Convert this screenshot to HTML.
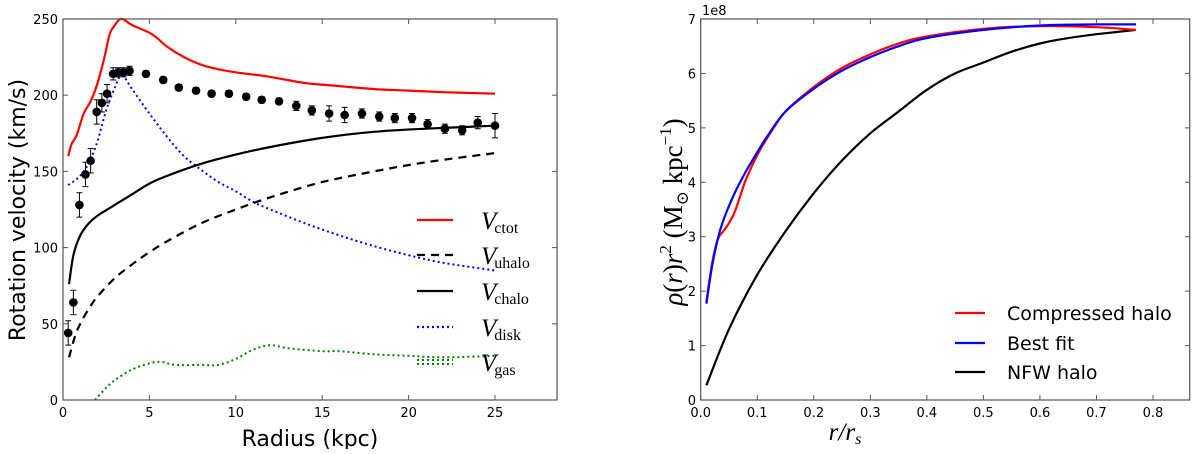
<!DOCTYPE html>
<html><head><meta charset="utf-8">
<style>
body{margin:0;background:#fff;width:1200px;height:449px;overflow:hidden}
svg text{font-family:"DejaVu Sans","Liberation Sans",sans-serif}
.serif{font-family:"Liberation Serif","DejaVu Serif",serif}
</style></head>
<body>
<svg id="chart" width="1200" height="449" xmlns="http://www.w3.org/2000/svg">
<g id="left"></g>
<g id="right"></g>
</svg>
<script>
// ---- Left panel data ----
const obsR=[0.3,0.6,0.95,1.3,1.6,1.95,2.25,2.55,2.9,3.2,3.5,3.85,4.8,5.8,6.7,7.7,8.6,9.6,10.6,11.5,12.5,13.5,14.4,15.4,16.3,17.3,18.3,19.2,20.2,21.1,22.1,23.1,24,25];
const obsV=[44,64,128,148,157,189,195,201,214,215,215,216,214,210,205,203,201,201,199,197,196,193,190,188,187,188,186,185,185,181,178,177,182,180];
const obsErr=[8,8,8,8,8,8,6,6,4,3,3,3,2,2,2,2,2,2,2,2,2,3,3,5,5,3,3,3,3,3,3,3,4,8];
const ctotR=[0.3,0.5,0.8,1.2,1.6,2,2.4,2.7,3.0,3.3,3.6,4,5,5.5,6,7,8,9,10,12,14,16,18,20,22,25];
const ctotV=[160,168,174,188,196,208,225,240,246,250,249,246,241,237,232,225,220,217,215,212,208,206,204,203,202,201];
const chaloR=[0.35,0.6,1,1.5,2,3,4,5,6,8,10,12,15,18,21,25];
const chaloV=[76,95,108,116,121,128,135,142,147,155,161,166,172,176,178,180];
const uhaloR=[0.35,0.7,1,1.5,2,3,4,5,6,8,10,12,15,18,21,25];
const uhaloV=[28,42,50,60,68,80,89,97,104,116,125,133,143,150,156,162];
const diskR=[0.3,0.8,1.2,1.6,2,2.5,3,3.4,4,5,6,7,8,9,10,11,12,14,16,18,20,22,25];
const diskV=[141,145,150,158,170,190,205,213,204,188,173,160,151,143,137,130,125,116,108,101,95,90,85];
const gasR=[1.85,2.5,3,4,5,5.7,6.5,8,9,10,11,12,13,15,16,18,20,22,25];
const gasV=[0,8,13,20,24,25,23,23,23,27,33,36,34,32,32,30,29,28,29];
const leftXTicks=[0,5,10,15,20,25];
const leftYTicks=[0,50,100,150,200,250];
// ---- Right panel data ----
const compX=[0.01,0.02,0.03,0.04,0.05,0.06,0.07,0.08,0.1,0.12,0.15,0.2,0.25,0.3,0.35,0.4,0.5,0.6,0.7,0.77];
const compY=[1.8,2.5,2.95,3.1,3.25,3.45,3.75,4.05,4.5,4.85,5.3,5.75,6.1,6.35,6.55,6.68,6.82,6.87,6.85,6.8];
const fitX=[0.01,0.02,0.03,0.04,0.06,0.08,0.1,0.12,0.15,0.2,0.25,0.3,0.35,0.4,0.5,0.6,0.7,0.77];
const fitY=[1.77,2.45,2.95,3.3,3.8,4.2,4.55,4.88,5.3,5.72,6.05,6.3,6.5,6.65,6.8,6.88,6.9,6.9];
const nfwX=[0.01,0.05,0.1,0.15,0.2,0.25,0.3,0.35,0.4,0.45,0.5,0.55,0.6,0.65,0.7,0.77];
const nfwY=[0.27,1.3,2.3,3.1,3.8,4.4,4.9,5.3,5.7,6.0,6.2,6.4,6.55,6.65,6.72,6.8];
const rightXTicks=["0.0","0.1","0.2","0.3","0.4","0.5","0.6","0.7","0.8"];
const rightYTicks=[0,1,2,3,4,5,6,7];

const NS="http://www.w3.org/2000/svg";
function mk(parent,tag,attrs,text){const e=document.createElementNS(NS,tag);for(const k in attrs)e.setAttribute(k,attrs[k]);if(text!==undefined)e.textContent=text;parent.appendChild(e);return e;}
function path(xs,ys,sx,sy){
  const p=xs.map((x,i)=>[sx(x),sy(ys[i])]);
  let d='M'+p[0][0].toFixed(1)+','+p[0][1].toFixed(1);
  for(let i=0;i<p.length-1;i++){
    const p0=p[i-1]||p[i],p1=p[i],p2=p[i+1],p3=p[i+2]||p2;
    const c1=[p1[0]+(p2[0]-p0[0])/6,p1[1]+(p2[1]-p0[1])/6];
    const c2=[p2[0]-(p3[0]-p1[0])/6,p2[1]-(p3[1]-p1[1])/6];
    d+=' C'+c1[0].toFixed(1)+','+c1[1].toFixed(1)+' '+c2[0].toFixed(1)+','+c2[1].toFixed(1)+' '+p2[0].toFixed(1)+','+p2[1].toFixed(1);
  }
  return d;
}

// Left
const L=document.getElementById('left');
const lx=v=>63+v*(495-63)/25, ly=v=>400-v*(400-19)/250;
function ln(g,xs,ys,sx,sy,color,w,dash,name){const p=mk(g,'path',{d:path(xs,ys,sx,sy),fill:'none',stroke:color,'stroke-width':w,'stroke-dasharray':dash||'none','stroke-linejoin':'round'});

}
ln(L,gasR,gasV,lx,ly,'#008000',2,'2,3','vgas-line');
ln(L,diskR,diskV,lx,ly,'#0000ff',2,'2,3','vdisk-line');
ln(L,uhaloR,uhaloV,lx,ly,'#000',2.2,'8,6','vuhalo-line');
ln(L,chaloR,chaloV,lx,ly,'#000',2.2,null,'vchalo-line');
ln(L,ctotR,ctotV,lx,ly,'#ff0000',2.2,null,'vctot-line');
obsR.forEach((r,i)=>{const x=lx(r),y=ly(obsV[i]),e1=ly(obsV[i]+obsErr[i]),e2=ly(obsV[i]-obsErr[i]);
const g=mk(L,'g',{});


mk(g,'line',{x1:x,x2:x,y1:e1,y2:e2,stroke:'#000','stroke-width':1});
mk(g,'line',{x1:x-3,x2:x+3,y1:e1,y2:e1,stroke:'#000','stroke-width':1});
mk(g,'line',{x1:x-3,x2:x+3,y1:e2,y2:e2,stroke:'#000','stroke-width':1});
mk(g,'circle',{cx:x,cy:y,r:4.3,fill:'#000'});});
const lf=mk(L,'rect',{x:63,y:19,width:494,height:381,fill:'none',stroke:'#555','stroke-width':1.2});


leftXTicks.forEach(t=>{const x=lx(t);mk(L,'line',{x1:x,x2:x,y1:400,y2:395,stroke:'#555'});mk(L,'line',{x1:x,x2:x,y1:19,y2:24,stroke:'#555'});
const tx=mk(L,'text',{x:x,y:417,'font-size':13,'text-anchor':'middle'},String(t));

});
leftYTicks.forEach(t=>{const y=ly(t);mk(L,'line',{x1:63,x2:68,y1:y,y2:y,stroke:'#555'});mk(L,'line',{x1:557,x2:552,y1:y,y2:y,stroke:'#555'});
const tx=mk(L,'text',{x:58,y:y+5,'font-size':13,'text-anchor':'end'},String(t));

});
const lxt=mk(L,'text',{x:310,y:446,'font-size':22,'text-anchor':'middle'},'Radius (kpc)');


const lyt=mk(L,'text',{x:0,y:0,'font-size':22,'text-anchor':'middle',transform:'translate(25,210) rotate(-90)'},'Rotation velocity (km/s)');


const leg=[['ctot','#ff0000',null,220],['uhalo','#000','8,6',255],['chalo','#000',null,291],['disk','#0000ff','2,3',327],['gas','#008000','2,3',362]];
leg.forEach(([s,c,d,y])=>{const g=mk(L,'g',{});


if(s==='gas'){mk(g,'line',{x1:417,x2:453,y1:y-2,y2:y-2,stroke:c,'stroke-width':2,'stroke-dasharray':d});mk(g,'line',{x1:417,x2:453,y1:y+2,y2:y+2,stroke:c,'stroke-width':2,'stroke-dasharray':d});}
else mk(g,'line',{x1:417,x2:453,y1:y,y2:y,stroke:c,'stroke-width':2.2,'stroke-dasharray':d||'none'});
const t=mk(g,'text',{x:481,y:y+9,'font-size':25,'font-style':'italic',class:'serif'},'V');
const sb=mk(g,'tspan',{'font-size':16,'font-style':'normal',dy:4,dx:-2},s);t.appendChild(sb);});

// Right
const R=document.getElementById('right');
const rx=v=>700.7+v*(1153-700.7)/0.8, ry=v=>400-v*(400-19)/7;
ln(R,nfwX,nfwY,rx,ry,'#000',2.2,null,'nfw-halo-line');
ln(R,compX,compY,rx,ry,'#ff0000',2.2,null,'compressed-halo-line');
ln(R,fitX,fitY,rx,ry,'#0000ff',2.2,null,'best-fit-line');
const rf=mk(R,'rect',{x:700.7,y:19,width:489,height:381,fill:'none',stroke:'#555','stroke-width':1.2});


rightXTicks.forEach(t=>{const x=rx(parseFloat(t));mk(R,'line',{x1:x,x2:x,y1:400,y2:395,stroke:'#555'});mk(R,'line',{x1:x,x2:x,y1:19,y2:24,stroke:'#555'});
const tx=mk(R,'text',{x:x,y:417,'font-size':13,'text-anchor':'middle'},t);

});
rightYTicks.forEach(t=>{const y=ry(t);mk(R,'line',{x1:700.7,x2:705.7,y1:y,y2:y,stroke:'#555'});mk(R,'line',{x1:1190,x2:1185,y1:y,y2:y,stroke:'#555'});
const tx=mk(R,'text',{x:696,y:y+5,'font-size':13,'text-anchor':'end'},String(t));

});
const oe=mk(R,'text',{x:702,y:15,'font-size':13},'1e8');


const rxt=mk(R,'text',{x:845,y:440,'font-size':25,'font-style':'italic','text-anchor':'middle',class:'serif'},'r/r');
rxt.appendChild(mk(R,'tspan',{'font-size':16,dy:4},'s'));


const ryt=mk(R,'text',{x:0,y:0,'font-size':27,'text-anchor':'middle',class:'serif',transform:'translate(682,212) rotate(-90)'},'');
ryt.innerHTML='<tspan font-style="italic">ρ</tspan>(<tspan font-style="italic">r</tspan>)<tspan font-style="italic">r</tspan><tspan font-size="17" dy="-11">2</tspan><tspan dy="11"> (M</tspan><tspan font-size="17" dy="6">⊙</tspan><tspan dy="-6"> kpc</tspan><tspan font-size="17" dy="-11">−1</tspan><tspan dy="11">)</tspan>';


[['Compressed halo','#ff0000',313],['Best fit','#0000ff',343],['NFW halo','#000',372]].forEach(([s,c,y])=>{const g=mk(R,'g',{});


mk(g,'line',{x1:955,x2:985,y1:y,y2:y,stroke:c,'stroke-width':2.2});
mk(g,'text',{x:1007,y:y+7,'font-size':19},s);});
</script>
</body></html>
